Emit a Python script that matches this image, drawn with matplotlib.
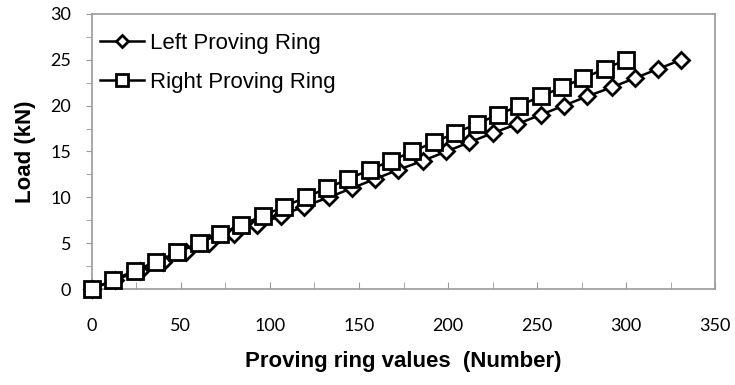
import matplotlib.pyplot as plt

# load steps (kN)
load = [0, 1, 2, 3, 4, 5, 6, 7, 8, 9, 10, 11, 12, 13, 14, 15, 16, 17, 18, 19, 20, 21, 22, 23, 24, 25]

# proving ring readings
left_ring = [0, 13, 27, 40, 53, 66, 80, 93, 106, 119, 133, 146, 159, 172, 186, 199,
             212, 225, 239, 252, 265, 278, 292, 305, 318, 331]
right_ring = [0, 12, 24, 36, 48, 60, 72, 84, 96, 108, 120, 132, 144, 156, 168, 180,
              192, 204, 216, 228, 240, 252, 264, 276, 288, 300]

fig = plt.figure(figsize=(7.35, 3.85), dpi=100)
ax = fig.add_axes([0.125, 0.249, 0.848, 0.715])

ax.plot(left_ring, load, color='black', lw=1.8, marker='D', markersize=8,
        markerfacecolor='white', markeredgecolor='black', markeredgewidth=2,
        label='Left Proving Ring', zorder=3, clip_on=False)
ax.plot(right_ring, load, color='black', lw=1.8, marker='s', markersize=11,
        markerfacecolor='white', markeredgecolor='black', markeredgewidth=2,
        label='Right Proving Ring', zorder=4, clip_on=False)

ax.set_xlim(0, 350)
ax.set_ylim(0, 30)
ax.set_xticks(range(0, 351, 50))
ax.set_xticks(range(25, 351, 50), minor=True)
ax.set_yticks(range(0, 31, 5))
ax.set_yticks([2.5, 7.5, 12.5, 17.5, 22.5, 27.5], minor=True)

for s in ax.spines.values():
    s.set_color('#9a9a9a')
    s.set_linewidth(1.2)

ax.tick_params(axis='x', which='both', direction='in', length=5, color='#9a9a9a',
               labelsize=13, pad=21)
ax.tick_params(axis='y', which='both', direction='out', length=4, color='#9a9a9a',
               labelsize=13, pad=11)
for lab in ax.get_xticklabels() + ax.get_yticklabels():
    lab.set_family('Lato')

ax.set_xlabel('Proving ring values  (Number)', fontsize=16, fontweight='bold',
              family='Liberation Sans', labelpad=12)
ax.set_ylabel('Load (kN)', fontsize=16, fontweight='bold',
              family='Liberation Sans', labelpad=10)

ax.legend(loc='upper left', bbox_to_anchor=(-0.002, 0.962), frameon=False,
          prop={'family': 'Liberation Sans', 'size': 16},
          handlelength=2.0, handletextpad=0.25, borderaxespad=0, labelspacing=0.78,
          markerscale=0.8)

fig.savefig('out.png', dpi=100)
